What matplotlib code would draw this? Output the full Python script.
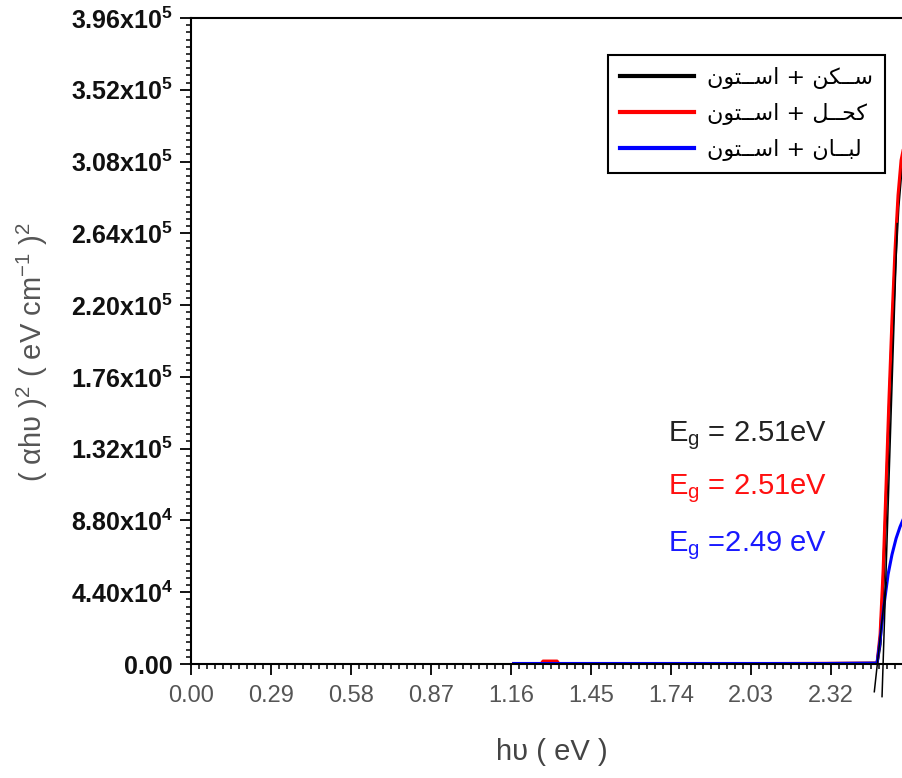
import matplotlib
matplotlib.use("Agg")
import matplotlib.pyplot as plt
from matplotlib.ticker import MultipleLocator, FixedLocator, FixedFormatter

plt.rcParams['font.family'] = ['Liberation Sans', 'DejaVu Sans']
plt.rcParams['mathtext.fontset'] = 'custom'
plt.rcParams['mathtext.rm'] = 'Liberation Sans'
plt.rcParams['mathtext.it'] = 'Liberation Sans'
plt.rcParams['mathtext.bf'] = 'Liberation Sans:bold'

# photon energy (eV) and (alpha h nu)^2
hv_black = [1.17, 1.50, 1.90, 2.30, 2.487, 2.498, 2.509, 2.519, 2.530, 2.541, 2.552, 2.563, 2.574, 2.585]
ahv_black = [300, 300, 300, 300, 500, 12000, 48000, 95000, 150000, 200000, 245000, 280000, 302000, 312000]

hv_red = [1.17, 1.27, 1.276, 1.327, 1.333, 1.70, 2.10, 2.487, 2.498, 2.509, 2.519, 2.530, 2.541, 2.552, 2.563, 2.574, 2.585]
ahv_red = [300, 300, 1800, 1800, 300, 300, 300, 500, 18400, 57600, 106600, 161800, 210800, 253700, 287400, 308800, 318000]

hv_blue = [1.17, 1.50, 1.90, 2.30, 2.487, 2.498, 2.512, 2.527, 2.541, 2.556, 2.570, 2.585]
ahv_blue = [300, 300, 300, 300, 500, 14700, 36000, 55000, 67000, 77000, 84000, 90000]

# extrapolated tangent lines
tan_rb_x = [2.505, 2.560]
tan_rb_y = [-20000, 270000]
tan_b_x = [2.477, 2.520]
tan_b_y = [-17000, 50000]

# Arabic legend labels (presentation forms, visual order)
acetone = "\uFEE5\uFEEE\uFE98\u0640\u0640\uFEB3\uFE8D"
sakan = "\uFEE6\uFEDC\u0640\u0640\uFEB3"
kohl = "\uFEDE\u0640\u0640\uFEA4\uFEDB"
luban = "\uFEE5\uFE8E\u0640\u0640\uFE92\uFEDF"
labels = [acetone + " + " + sakan, acetone + " + " + kohl, acetone + " + " + luban]

x_ticks = [0.00, 0.29, 0.58, 0.87, 1.16, 1.45, 1.74, 2.03, 2.32]
x_ticklabels = ["0.00", "0.29", "0.58", "0.87", "1.16", "1.45", "1.74", "2.03", "2.32"]
y_ticks = [0, 44000, 88000, 132000, 176000, 220000, 264000, 308000, 352000, 396000]
y_ticklabels = ["0.00", r"4.40x10$^{\mathbf{4}}$", r"8.80x10$^{\mathbf{4}}$", r"1.32x10$^{\mathbf{5}}$",
                r"1.76x10$^{\mathbf{5}}$", r"2.20x10$^{\mathbf{5}}$", r"2.64x10$^{\mathbf{5}}$",
                r"3.08x10$^{\mathbf{5}}$", r"3.52x10$^{\mathbf{5}}$", r"3.96x10$^{\mathbf{5}}$"]

eg_texts = ["= 2.51eV", "= 2.51eV", "=2.49 eV"]
eg_colors = ["#222222", "#ff1010", "#1a1aff"]

fig = plt.figure(figsize=(9.03, 7.78), dpi=100)
ax = fig.add_axes([191 / 903, 114 / 778, 720 / 903, 646 / 778])

ax.plot(hv_black, ahv_black, color="black", lw=2.2, label=labels[0])
ax.plot(hv_red, ahv_red, color="red", lw=2.2, label=labels[1])
ax.plot(hv_blue, ahv_blue, color="blue", lw=2.2, label=labels[2])
ax.plot(tan_rb_x, tan_rb_y, color="black", lw=1.1, clip_on=False)
ax.plot(tan_b_x, tan_b_y, color="black", lw=1.1, clip_on=False)

ax.set_xlim(0, 2.61)
ax.set_ylim(0, 396000)

for s in ax.spines.values():
    s.set_linewidth(1.5)

ax.xaxis.set_major_locator(FixedLocator(x_ticks))
ax.xaxis.set_major_formatter(FixedFormatter(x_ticklabels))
ax.xaxis.set_minor_locator(MultipleLocator(0.029))
ax.yaxis.set_major_locator(FixedLocator(y_ticks))
ax.yaxis.set_major_formatter(FixedFormatter(y_ticklabels))
ax.yaxis.set_minor_locator(MultipleLocator(4400))

ax.tick_params(which="major", direction="out", length=8, width=1.3)
ax.tick_params(which="minor", direction="out", length=3.8, width=1.1)
ax.tick_params(axis="y", which="major", pad=5, labelsize=18, labelcolor="#111111")
ax.tick_params(axis="x", which="major", pad=7, labelsize=17, labelcolor="#555555")
for t in ax.get_yticklabels():
    t.set_fontweight("bold")

fig.text(552 / 903, 1 - 752 / 778, "h\u03c5 ( eV )", ha="center", va="center",
         fontsize=21, color="#444444")
fig.text(32 / 903, 1 - 352 / 778, "( \u03b1h\u03c5 )$^{2}$ ( eV cm$^{-1}$ )$^{2}$",
         rotation=90, ha="center", va="center", fontsize=21, color="#555555")

for i, (txt, col) in enumerate(zip(eg_texts, eg_colors)):
    yb = [441, 494, 551][i]
    fig.text(668 / 903, 1 - yb / 778, "E$_{g}$ " + txt, ha="left", va="baseline",
             fontsize=21, color=col)

leg = ax.legend(loc="upper left", bbox_to_anchor=(608 / 903, 1 - 55 / 778),
                bbox_transform=fig.transFigure, borderaxespad=0, fancybox=False,
                edgecolor="black", framealpha=1, handlelength=3.3, handletextpad=0.6,
                labelspacing=0.62, borderpad=0.55,
                prop={"family": ["DejaVu Sans"], "size": 16})
leg.get_frame().set_linewidth(1.5)
for line in leg.get_lines():
    line.set_linewidth(3)

fig.savefig("out.png", dpi=100)
